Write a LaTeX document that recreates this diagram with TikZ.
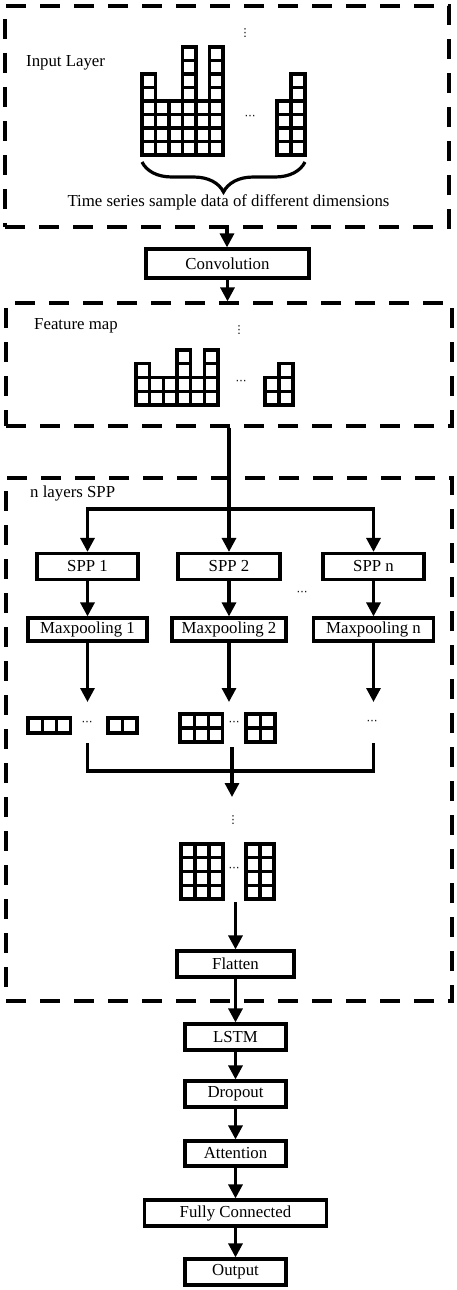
\documentclass[tikz,border=0pt]{standalone}
\usepackage{fontspec}
\setmainfont{Liberation Serif}
\newfontfamily\dvs{DejaVu Sans}
\usetikzlibrary{arrows.meta,decorations.pathreplacing}
\begin{document}
\begin{tikzpicture}[x=1pt,y=-1pt,
  box/.style={draw,line width=3.2pt,minimum height=26pt,inner sep=0pt,font=\fontsize{16.8}{18}\selectfont},
  cont/.style={draw,line width=3.2pt,dash pattern=on 20pt off 14pt,inner sep=0pt},
  lbl/.style={font=\fontsize{16.8}{18}\selectfont,inner sep=0pt},
  arr/.style={line width=3.2pt,-{Triangle[length=14pt,width=14pt]}},
  ln/.style={line width=3.2pt},
  cell/.style={line width=3.1pt},
  hd/.style={font=\dvs\fontsize{11}{11}\selectfont,inner sep=0pt},
]
\useasboundingbox (0,0) rectangle (457,1290);

% containers
\node[cont,minimum width=444pt,minimum height=221pt] (inl) at (227,116.5) {};
\node[cont,minimum width=446pt,minimum height=123pt] (feat) at (229,364.5) {};
\node[cont,minimum width=446pt,minimum height=523pt] (sppc) at (229,739.5) {};

% input layer
\node[lbl,anchor=west] (inlbl) at (26,63) {Input Layer};
\foreach \h [count=\i from 0] in {6,4,4,8,4,8}
  \foreach \j in {1,...,\h}
    \draw[cell] ({142+13.5*\i},{155-13.5*\j}) rectangle ++(13.5,13.5);
\foreach \h [count=\i from 0] in {4,6}
  \foreach \j in {1,...,\h}
    \draw[cell] ({277+14*\i},{155-13.5*\j}) rectangle ++(14,13.5);
\node[hd] (ivd) at (245,33) {⋮};
\node[hd] (ihd) at (250,117) {⋯};
\draw[ln,decorate,decoration={brace,amplitude=30pt,mirror}] (142,162) -- (305,162);
\node[lbl] (tslbl) at (228.5,202) {Time series sample data of different dimensions};

% convolution
\node[box,minimum width=163pt,minimum height=29pt] (conv) at (227.5,263.5) {Convolution};
\draw[arr] (inl.south) -- (inl.south |- conv.north);
\draw[arr] (conv.south) -- (conv.south |- feat.north);

% feature map
\node[lbl,anchor=west] (fmlbl) at (34,326) {Feature map};
\foreach \h [count=\i from 0] in {3,2,2,4,2,4}
  \foreach \j in {1,...,\h}
    \draw[cell] ({136+13.67*\i},{405-13.75*\j}) rectangle ++(13.67,13.75);
\foreach \h [count=\i from 0] in {2,3}
  \foreach \j in {1,...,\h}
    \draw[cell] ({265+14*\i},{405-13.75*\j}) rectangle ++(14,13.75);
\node[hd] (fvd) at (239,330) {⋮};
\node[hd] (fhd) at (241,382) {⋯};

% SPP
\node[lbl,anchor=west] (spplbl) at (30,493) {n layers SPP};
\coordinate (br) at (229,509);
\node[box,minimum width=101pt] (spp1) at (87.5,566.5) {SPP 1};
\node[box,minimum width=102pt] (spp2) at (229,566.5) {SPP 2};
\node[box,minimum width=101pt] (sppn) at (373.5,566.5) {SPP n};
\node[hd] (sd) at (302,593) {⋯};
\node[box,minimum width=119pt,minimum height=23pt] (mp1) at (87.5,629.5) {Maxpooling 1};
\node[box,minimum width=114pt,minimum height=23pt] (mp2) at (229,629.5) {Maxpooling 2};
\node[box,minimum width=120pt,minimum height=23pt] (mpn) at (373.5,629.5) {Maxpooling n};
\draw[ln] (feat.south) -- (br);
\draw[arr] (br) -| (spp1.north);
\draw[arr] (br) -| (sppn.north);
\draw[arr] (br) -- (spp2.north);
\draw[arr] (spp1) -- (mp1);
\draw[arr] (spp2) -- (mp2);
\draw[arr] (sppn) -- (mpn);
\coordinate (e1) at (87.5,702);
\coordinate (e2) at (229,702);
\coordinate (e3) at (373.5,702);
\draw[arr] (mp1.south) -- (e1);
\draw[arr] (mp2.south) -- (e2);
\draw[arr] (mpn.south) -- (e3);

% pooled maps
\foreach \i in {0,1,2} \draw[cell] ({28+14.3*\i},718) rectangle ++(14.3,15);
\foreach \i in {0,1} \draw[cell] ({108+14.5*\i},718) rectangle ++(14.5,15);
\foreach \i in {0,1,2} \foreach \j in {0,1} \draw[cell] ({180+14.3*\i},{714+14*\j}) rectangle ++(14.3,14);
\foreach \i in {0,1} \foreach \j in {0,1} \draw[cell] ({246+14.5*\i},{714+14*\j}) rectangle ++(14.5,14);
\node[hd] (p1d) at (87,723) {⋯};
\node[hd] (p2d) at (234,723) {⋯};
\node[hd] (p3d) at (372,722) {⋯};

% merge
\coordinate (g1) at (87.5,743);
\coordinate (g3) at (373.5,743);
\coordinate (g2) at (232,747);
\coordinate (mg) at (232,771);
\coordinate (mt) at (232,797);
\draw[ln] (g1) |- (mg) -| (g3);
\draw[ln] (g2) -- (mg);
\draw[arr] (mg) -- (mt);

% concatenated maps
\node[hd] (cvd) at (233,820) {⋮};
\foreach \i in {0,1,2} \foreach \j in {0,1,2,3} \draw[cell] ({181+14*\i},{844+13.75*\j}) rectangle ++(14,13.75);
\foreach \i in {0,1} \foreach \j in {0,1,2,3} \draw[cell] ({246+14*\i},{844+13.75*\j}) rectangle ++(14,13.75);
\node[hd] (chd) at (234,869) {⋯};

% flatten and tail
\node[box,minimum width=117pt] (flat) at (235.5,964) {Flatten};
\coordinate (lg) at (235.5,902);
\draw[arr] (lg) -- (flat.north);
\node[box,minimum width=101pt] (lstm) at (235.5,1037) {LSTM};
\node[box,minimum width=101pt] (drop) at (235.5,1094) {Dropout};
\node[box,minimum width=101pt,minimum height=25pt] (att) at (235.5,1153.5) {Attention};
\node[box,minimum width=182pt] (fc) at (235.5,1213) {Fully Connected};
\node[box,minimum width=101pt] (out) at (235.5,1272) {Output};
\draw[arr] (flat) -- (lstm);
\draw[arr] (lstm) -- (drop);
\draw[arr] (drop) -- (att);
\draw[arr] (att) -- (fc);
\draw[arr] (fc) -- (out);
\end{tikzpicture}
\end{document}
